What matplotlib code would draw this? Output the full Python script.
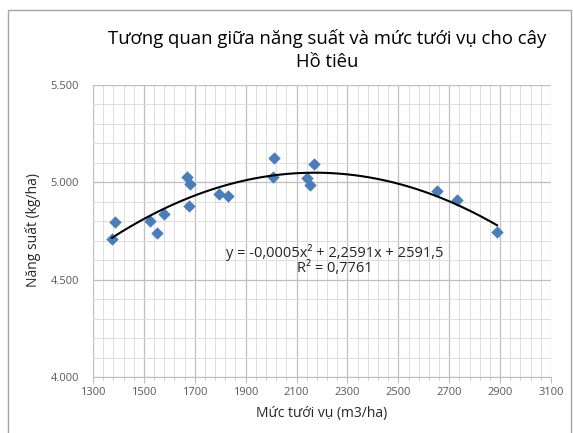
import numpy as np
import matplotlib
matplotlib.use("Agg")
import matplotlib.pyplot as plt
from matplotlib.ticker import FixedLocator, MultipleLocator, FuncFormatter
from matplotlib.patches import Rectangle

plt.rcParams['font.family'] = ['Open Sans', 'DejaVu Sans']

irrigation = [1375, 1388, 1524, 1550, 1579, 1668, 1681, 1677, 1797, 1830,
              2010, 2008, 2140, 2152, 2170, 2652, 2730, 2888]
yield_kg = [4710, 4798, 4800, 4742, 4838, 5028, 4992, 4880, 4940, 4928,
            5124, 5026, 5022, 4987, 5092, 4955, 4909, 4744]
x_ticks = [1300, 1500, 1700, 1900, 2100, 2300, 2500, 2700, 2900, 3100]

title = "Tương quan giữa năng suất và mức tưới vụ cho cây\nHồ tiêu"
xlabel = "Mức tưới vụ (m3/ha)"
ylabel = "Năng suất (kg/ha)"
eq_text = "y = -0,0005x² + 2,2591x + 2591,5\nR² = 0,7761"

fig = plt.figure(figsize=(5.73, 4.33), dpi=100)
ax = fig.add_axes([93/573, 1-377/433, (551-93)/573, (377-85)/433])

# outer chart frame
fig.patches.append(Rectangle((8/573, -0.05), (571-8)/573, 1.05-10/433,
                             transform=fig.transFigure, fill=False,
                             edgecolor='#A6A6A6', linewidth=1.0))

ax.set_xlim(1300, 3100)
ax.set_ylim(4000, 5500)
ax.xaxis.set_major_locator(FixedLocator(x_ticks))
ax.xaxis.set_minor_locator(FixedLocator(np.arange(1300, 3101, 40)))
ax.yaxis.set_major_locator(MultipleLocator(500))
ax.yaxis.set_minor_locator(MultipleLocator(100))
ax.yaxis.set_major_formatter(FuncFormatter(lambda v, p: f"{int(v):,}".replace(",", ".")))

ax.grid(which='major', color='#BFBFBF', linewidth=0.9)
ax.grid(which='minor', color='#DDDDDD', linewidth=0.7)
ax.set_axisbelow(True)
for s in ['top', 'right', 'left']:
    ax.spines[s].set_visible(False)
ax.spines['bottom'].set_color('#BFBFBF')
ax.tick_params(axis='x', which='major', length=4, color='#BFBFBF', labelsize=8, labelcolor='#595959', pad=3)
ax.tick_params(axis='x', which='minor', length=2, color='#BFBFBF')
ax.tick_params(axis='y', which='both', length=0, labelsize=8, labelcolor='#595959', pad=10)

ax.scatter(irrigation, yield_kg, marker='D', s=40, color='#4A7EBB', zorder=3, linewidths=0)

coef = np.polyfit(irrigation, yield_kg, 2)
xs = np.linspace(min(irrigation), max(irrigation), 200)
ax.plot(xs, np.polyval(coef, xs), color='black', linewidth=1.5, zorder=4)

ax.text(2250, 4600, eq_text, ha='center', va='center', fontsize=10.5,
        color='#262626', linespacing=1.05, zorder=5)

fig.text(327/573, 1-50/433, title, ha='center', va='center', fontsize=13.3,
         color='black', linespacing=1.35)
ax.set_xlabel(xlabel, fontsize=10, color='#262626', labelpad=6)
fig.text(33/573, 1-230/433, ylabel, rotation=90, ha='center', va='center',
         fontsize=10, color='#262626')

fig.savefig("out.png", dpi=100)
